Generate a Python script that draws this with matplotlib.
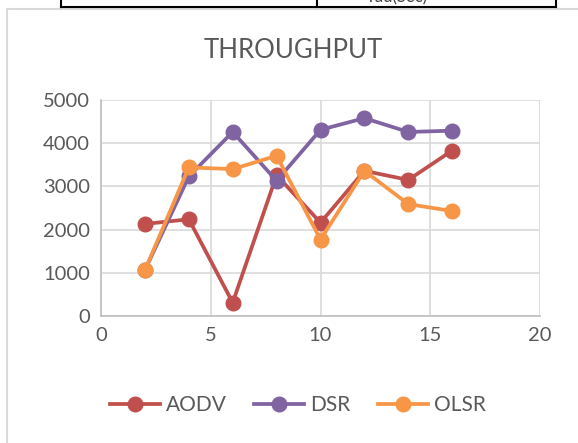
import matplotlib.pyplot as plt
from matplotlib.patches import Rectangle
from matplotlib.lines import Line2D

plt.rcParams['font.family'] = ['Lato', 'DejaVu Sans']

x = [2, 4, 6, 8, 10, 12, 14, 16]
aodv = [2130, 2240, 310, 3260, 2160, 3360, 3150, 3830]
dsr = [1060, 3230, 4260, 3130, 4310, 4580, 4260, 4290]
olsr = [1060, 3440, 3400, 3710, 1770, 3360, 2590, 2430]

series = [("AODV", aodv, "#c0504d"), ("DSR", dsr, "#8064a2"), ("OLSR", olsr, "#f79646")]

W, H = 578, 443
fig = plt.figure(figsize=(W / 100, H / 100), dpi=100)

# table fragment above the chart
tcol = "black"
fig.add_artist(Line2D([61 / W, 556 / W], [1 - 7 / H, 1 - 7 / H], color=tcol, lw=1.5))
for px in (61, 317, 556):
    fig.add_artist(Line2D([px / W, px / W], [1 - 7 / H, 1.0], color=tcol, lw=1.5))
fig.text(397 / W, 1 - 5 / H, "Tau(Sec)", ha="center", va="bottom", fontsize=12, color="#404040")

# chart border
fig.add_artist(Rectangle((7 / W, -0.05), 1.2, 1 - 9 / H + 0.05, transform=fig.transFigure,
                         fill=False, ec="#d9d9d9", lw=1.5))

ax = fig.add_axes([101 / W, 1 - 316 / H, (540 - 101) / W, (316 - 100) / H])
for name, vals, col in series:
    ax.plot(x, vals, color=col, lw=2.7, marker="o", ms=10.5, label=name)

ax.set_xlim(0, 20)
ax.set_ylim(0, 5000)
ax.set_xticks(range(0, 21, 5))
ax.set_yticks(range(0, 5001, 1000))
ax.grid(True, color="#d9d9d9", lw=1.2)
ax.set_axisbelow(True)
for s in ax.spines.values():
    s.set_visible(False)
ax.spines["left"].set_visible(True)
ax.spines["bottom"].set_visible(True)
ax.spines["left"].set_color("#bfbfbf")
ax.spines["bottom"].set_color("#bfbfbf")
ax.spines["left"].set_linewidth(1.2)
ax.spines["bottom"].set_linewidth(1.2)
ax.tick_params(length=0, labelsize=14.5, labelcolor="#595959", pad=8)

fig.text(293 / W, 1 - 50 / H, "THROUGHPUT", ha="center", va="center", fontsize=18.5, color="#595959")

fig.legend(loc="center", bbox_to_anchor=(298 / W, 1 - 405 / H), ncol=3, frameon=False,
           fontsize=15, labelcolor="#595959", handlelength=2.4, columnspacing=1.3, handletextpad=0.3)

fig.savefig("out.png", dpi=100)
